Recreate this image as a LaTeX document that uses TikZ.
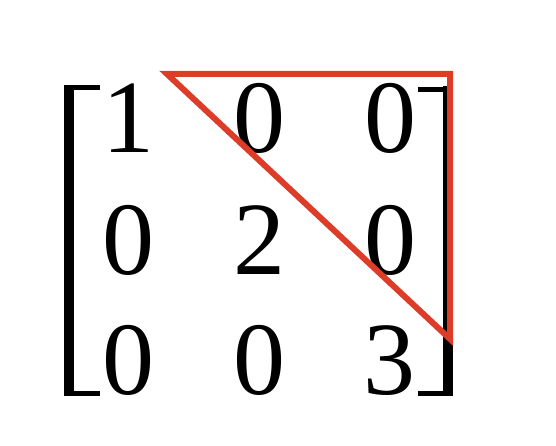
\documentclass[tikz,border=0pt]{standalone}
\usepackage{fontspec}
\setmainfont{Liberation Serif}
\newfontfamily\digitfont{Liberation Serif}
\usepackage{tikz}
\usetikzlibrary{positioning}
\definecolor{trired}{RGB}{221,61,40}
\tikzstyle{entry} = [anchor=base, 
inner sep=0pt, 
font=\digitfont\fontsize{104}{120}\selectfont]
\tikzstyle{bracket} = [fill=black, draw=none]
\tikzstyle{triangle} = [draw=trired, line width=6pt, line join=miter]

\begin{document}
\begin{tikzpicture}[x=1pt, y=-1pt]
    \useasboundingbox (0,0) rectangle (556,446);
    % entries
    \node (a11) [entry] at (128,153) {1};
    \node (a12) [entry] at (259,153) {0};
    \node (a13) [entry] at (390,153) {0};
    \node (a21) [entry] at (128,274) {0};
    \node (a22) [entry] at (259,274) {2};
    \node (a23) [entry] at (390,274) {0};
    \node (a31) [entry] at (128,394) {0};
    \node (a32) [entry] at (259,394) {0};
    \node (a33) [entry] at (389,394) {3};

    % brackets
    \fill [bracket] (64,85) rectangle (74,396);
    \fill [bracket] (64,85) rectangle (100,90);
    \fill [bracket] (64,391) rectangle (100,396);
    \fill [bracket] (443,86) rectangle (453,396);
    \fill [bracket] (418,87) rectangle (453,92);
    \fill [bracket] (418,391) rectangle (453,396);

    % upper triangle
    \coordinate (tl) at (167,74);
    \coordinate (tr) at (450,74);
    \coordinate (br) at (450,339);
    \draw [triangle] (tl) -- (tr) -- (br) -- cycle;
\end{tikzpicture}
\end{document}
